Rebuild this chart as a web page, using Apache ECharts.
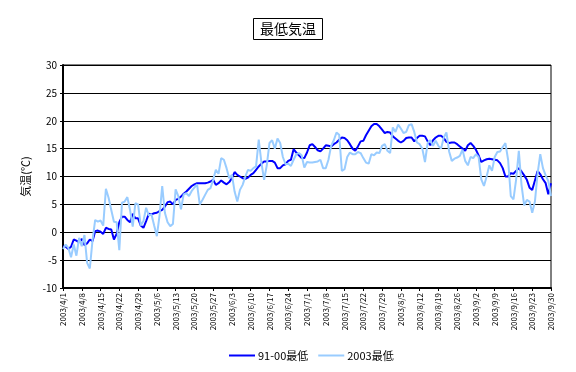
<!DOCTYPE html>
<html><head><meta charset="utf-8">
<script src="https://cdn.jsdelivr.net/npm/echarts@6/dist/echarts.min.js"></script>
<style>html,body{margin:0;padding:0;background:#fff}#c{width:576px;height:372px}</style>
</head><body><div id="c"></div>
<script>
// Dates 2003/4/1 .. 2003/9/30 (daily)
const monthDays = [[4,30],[5,31],[6,30],[7,31],[8,31],[9,30]];
const categories = [];
monthDays.forEach(([m,n]) => { for (let d = 1; d <= n; d++) categories.push('2003/' + m + '/' + d); });

const yTicks = [-10, -5, 0, 5, 10, 15, 20, 25, 30];
const seriesNames = ['91-00最低', '2003最低'];

// 91-00 normal daily minimum
const normal9100 = [
-2.5,-2.6,-3.0,-2.6,-1.3,-1.5,-1.8,-1.2,-2.3,-2.0,
-1.3,-1.6,0.2,0.3,0.1,-0.3,0.8,0.6,0.5,-1.3,
-0.3,1.8,2.8,2.8,2.2,1.8,3.3,2.5,2.5,1.2,
0.8,2.0,3.3,3.2,3.4,3.5,3.8,4.0,4.6,5.4,
5.5,5.0,5.8,6.0,6.4,6.9,7.3,7.8,8.3,8.6,
8.8,8.8,8.8,8.8,8.9,9.1,9.4,8.5,8.8,9.3,
8.9,8.6,9.0,9.7,10.8,10.3,10.0,9.7,9.6,9.8,
10.3,10.6,11.2,11.8,12.3,12.7,12.7,12.8,12.8,12.5,
11.5,11.5,12.0,12.2,12.8,13.0,14.9,14.3,13.8,13.3,
13.3,14.3,15.6,15.8,15.3,14.7,14.5,15.0,15.6,15.5,
15.4,15.8,16.1,16.6,17.0,16.9,16.5,15.8,15.0,14.6,
15.4,16.3,16.4,17.4,18.2,19.0,19.4,19.4,19.0,18.4,
17.8,18.0,17.9,17.2,16.8,16.4,16.1,16.4,16.9,17.0,
17.0,16.3,16.9,17.3,17.3,17.2,16.3,15.6,16.5,17.0,
17.3,17.3,16.9,16.2,16.0,16.1,16.1,15.8,15.4,15.0,
14.6,15.6,16.0,15.5,14.8,13.8,12.6,12.9,13.1,13.2,
13.1,13.0,12.9,12.4,11.5,10.0,10.0,10.6,10.5,11.0,
11.5,10.9,10.2,9.4,8.0,7.6,9.3,11.0,10.4,9.5,
8.8,6.8,8.8
];

// 2003 daily minimum
const min2003 = [
-3.0,-2.2,-2.8,-4.5,-2.2,-4.2,-1.0,-2.5,-0.5,-5.5,
-6.5,-1.5,2.2,1.9,2.1,1.2,7.8,6.2,4.0,1.9,
1.8,-3.2,5.3,5.5,6.3,4.0,1.0,5.2,5.0,1.2,
2.0,4.4,3.0,3.2,1.2,-0.7,3.0,8.3,3.5,1.8,
1.1,1.5,7.7,6.5,4.1,6.8,7.0,6.5,7.4,8.0,
8.6,5.0,5.8,6.7,7.6,7.9,9.4,11.2,10.5,13.3,
13.0,11.5,9.7,10.3,7.3,5.5,7.6,8.5,10.0,11.2,
11.0,11.5,11.8,16.6,12.5,9.4,12.0,16.0,16.5,15.0,
16.8,16.0,13.5,12.2,12.3,11.9,13.0,14.0,14.2,13.8,
11.6,12.6,12.5,12.5,12.6,12.7,13.0,11.5,11.5,13.0,
15.5,16.5,17.9,17.5,11.0,11.3,13.5,14.3,14.0,14.0,
14.4,14.2,13.3,12.5,12.3,14.0,13.8,14.3,14.2,15.5,
15.8,14.6,14.2,18.8,18.0,19.3,18.6,17.8,18.0,19.2,
19.4,18.0,16.1,15.8,15.0,12.6,16.0,16.5,15.5,16.4,
15.5,15.0,17.0,17.9,14.5,12.8,13.2,13.4,13.7,14.8,
12.8,12.0,13.5,13.3,14.0,13.5,9.5,8.3,10.0,12.0,
11.0,13.5,14.4,14.5,15.3,16.0,13.0,6.5,5.9,9.5,
14.6,8.5,4.8,5.8,5.5,3.5,5.5,10.5,14.0,11.5,
10.2,9.2,6.5
];

const FONT = '"Noto Sans CJK JP", "Noto Sans", sans-serif';
const chart = echarts.init(document.getElementById('c'), null, {renderer: 'canvas'});
chart.setOption({
  animation: false,
  backgroundColor: '#fff',
  textStyle: {fontFamily: FONT, color: '#000'},
  title: {
    text: '最低気温', left: 'center', top: 18,
    borderColor: '#000', borderWidth: 1, padding: [4, 7, 4, 7],
    textStyle: {fontFamily: FONT, fontSize: 14, fontWeight: 'normal', color: '#000'}
  },
  grid: {left: 63, top: 65, right: 25, bottom: 84, show: true, borderColor: '#000', borderWidth: 1},
  legend: {
    data: seriesNames, top: 345, left: 224, icon: 'rect', itemWidth: 26, itemHeight: 2, itemGap: 10,
    textStyle: {fontFamily: FONT, fontSize: 11, color: '#000', padding: [0,0,0,-2]}
  },
  xAxis: {
    type: 'category', data: categories, boundaryGap: false,
    axisLine: {onZero: false, lineStyle: {color: '#000', width: 2}},
    axisTick: {interval: 6, length: 3, lineStyle: {color: '#000'}},
    axisLabel: {interval: 6, rotate: 90, fontSize: 8, margin: 5, color: '#000', fontFamily: FONT},
    splitLine: {show: false}
  },
  yAxis: {
    type: 'value', min: -10, max: 30, interval: 5,
    name: '気温(℃)', nameLocation: 'middle', nameGap: 32, nameRotate: 90,
    nameTextStyle: {fontSize: 11, color: '#000', fontFamily: FONT},
    axisLine: {show: true, lineStyle: {color: '#000', width: 2}},
    axisTick: {show: true, length: 3, lineStyle: {color: '#000'}},
    axisLabel: {fontSize: 10, margin: 6, color: '#000', fontFamily: FONT,
      formatter: v => yTicks.includes(v) ? String(v) : ''},
    splitLine: {lineStyle: {color: '#000', width: 1}}
  },
  series: [
    {name: seriesNames[0], type: 'line', data: normal9100, showSymbol: false, symbol: 'none',
     lineStyle: {color: '#0000FF', width: 2}, itemStyle: {color: '#0000FF'}},
    {name: seriesNames[1], type: 'line', data: min2003, showSymbol: false, symbol: 'none',
     lineStyle: {color: '#99CCFF', width: 2}, itemStyle: {color: '#99CCFF'}}
  ]
});
</script></body></html>
